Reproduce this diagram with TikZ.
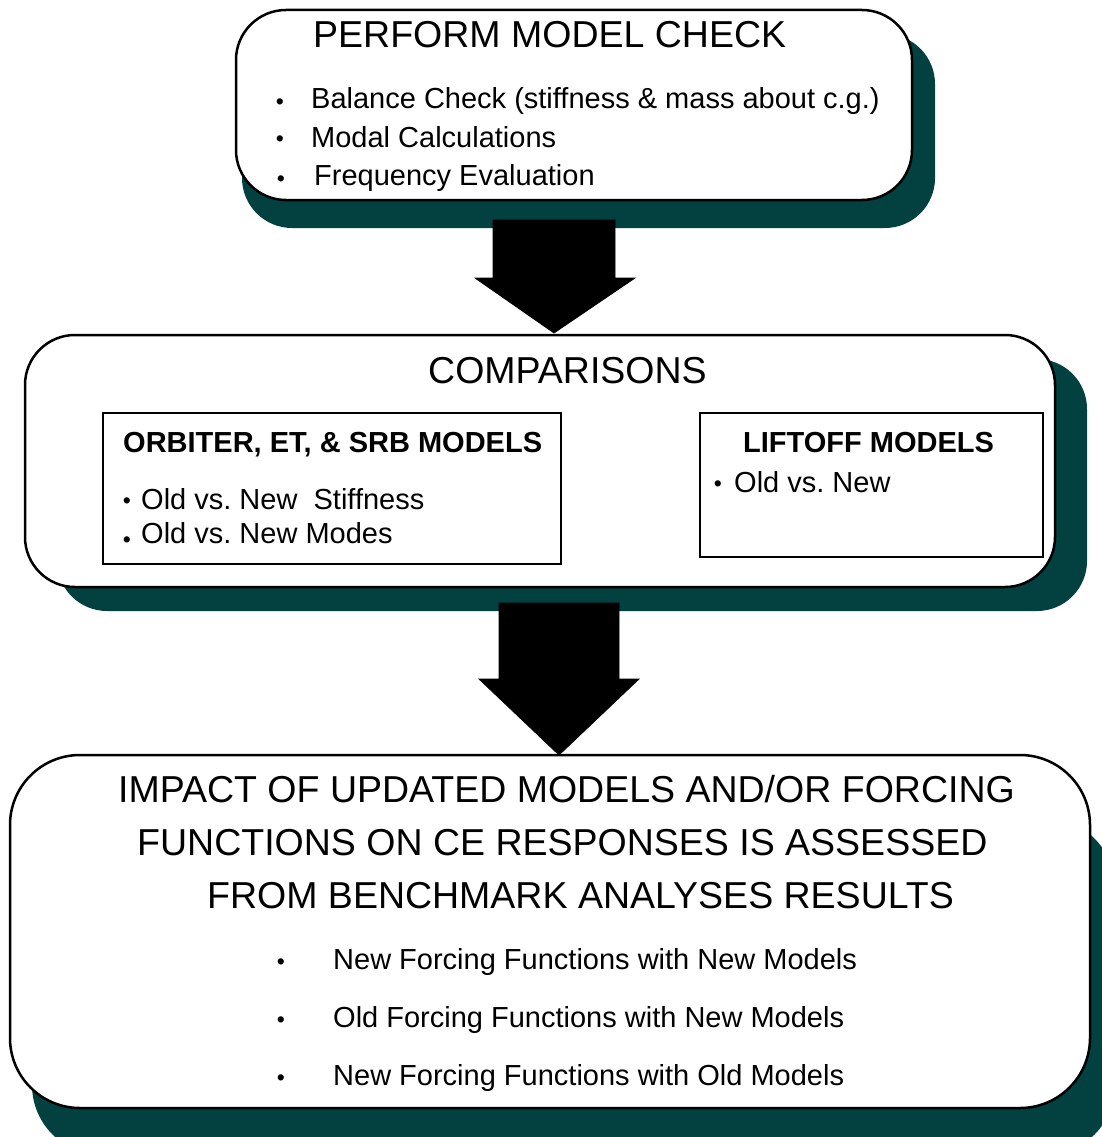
\documentclass[tikz,border=0pt]{standalone}
\usepackage{fontspec}
\setmainfont{Liberation Sans}
\frenchspacing
\definecolor{shadowteal}{RGB}{3,64,64}
\begin{document}
\begin{tikzpicture}[x=1pt,y=-1pt,
  dropshade/.style={fill=shadowteal, draw=none, rounded corners=#1, inner sep=0pt},
  panel/.style={draw=black, line width=2.5pt, fill=white, rounded corners=#1, inner sep=0pt},
  subpanel/.style={draw=black, line width=2pt, fill=white, inner sep=0pt},
  blockarrow/.style={fill=black, draw=black, line width=0.8pt, line join=miter},
  txt/.style={inner sep=0pt, anchor=base west},
  dot/.style={inner sep=0pt, anchor=center, yshift=-4pt, font=\fontsize{23}{23}\selectfont},
  bigfont/.style={font=\fontsize{37.5}{44}\selectfont},
  midfont/.style={font=\fontsize{29}{35}\selectfont},
  boldfont/.style={font=\fontsize{29}{35}\selectfont\bfseries}]
\useasboundingbox (0,0) rectangle (1101,1137);

% ---- model check panel
\node[dropshade=50pt, minimum width=693pt, minimum height=194pt] (check-sh) at (588.5,131) {};
\node[panel=50pt, minimum width=676pt, minimum height=190pt] (check) at (574,105) {};
\node[txt, bigfont] (check-title) at (313,48) {PERFORM MODEL CHECK};
\node[dot] (cb1) at (280,100) {•};
\node[txt, midfont] (ct1) at (311,109) {Balance Check (stiffness \& mass about c.g.)};
\node[dot] (cb2) at (280,137) {•};
\node[txt, midfont] (ct2) at (311,147) {Modal Calculations};
\node[dot] (cb3) at (281,177) {•};
\node[txt, midfont] (ct3) at (314,185) {Frequency Evaluation};

% ---- comparisons panel
\node[dropshade=50pt, minimum width=1030pt, minimum height=252pt] (cmp-sh) at (572,485) {};
\node[panel=50pt, minimum width=1030pt, minimum height=252pt] (cmp) at (540,461) {};
\node[txt, bigfont] (cmp-title) at (428,383) {COMPARISONS};

\node[subpanel, minimum width=458pt, minimum height=151pt] (orb) at (332,488.5) {};
\node[txt, boldfont] (orb-title) at (123,452) {ORBITER, ET, \& SRB MODELS};
\node[dot] (ob1) at (127,499) {•};
\node[txt, midfont] (orb1) at (141,509) {Old vs. New\ \ Stiffness};
\node[dot] (ob2) at (127,538) {•};
\node[txt, midfont] (orb2) at (141,543) {Old vs. New Modes};

\node[subpanel, minimum width=343pt, minimum height=144pt] (lift) at (871.5,485) {};
\node[txt, boldfont] (lift-title) at (743,452) {LIFTOFF MODELS};
\node[dot] (lb1) at (718,482) {•};
\node[txt, midfont] (lift1) at (734,492) {Old vs. New};

% ---- impact panel
\node[dropshade=70pt, minimum width=1083pt, minimum height=337pt] (imp-sh) at (573.5,986.5) {};
\node[panel=70pt, minimum width=1080pt, minimum height=353pt] (imp) at (550,931.5) {};
\node[txt, bigfont] (imp-l1) at (118,802) {IMPACT OF UPDATED MODELS AND/OR FORCING};
\node[txt, bigfont] (imp-l2) at (137,855) {FUNCTIONS ON CE RESPONSES IS ASSESSED};
\node[txt, bigfont] (imp-l3) at (207,908) {FROM BENCHMARK ANALYSES RESULTS};
\node[dot] (ib1) at (281,960) {•};
\node[txt, midfont] (it1) at (333,969) {New Forcing Functions with New Models};
\node[dot] (ib2) at (281,1018) {•};
\node[txt, midfont] (it2) at (333,1027) {Old Forcing Functions with New Models};
\node[dot] (ib3) at (281,1076) {•};
\node[txt, midfont] (it3) at (333,1085) {New Forcing Functions with Old Models};

% ---- block arrows between the panels
\coordinate (tip1) at (554,333);
\coordinate (tip2) at (559,755);
\draw[blockarrow] (tip1) -- ++(-79,-55) -- ++(18,0) -- ++(0,-58) -- ++(122,0)
  -- ++(0,58) -- ++(20,0) -- cycle;
\draw[blockarrow] (tip2) -- ++(-80,-76) -- ++(20,0) -- ++(0,-76) -- ++(120,0)
  -- ++(0,76) -- ++(20,0) -- cycle;
\end{tikzpicture}
\end{document}
